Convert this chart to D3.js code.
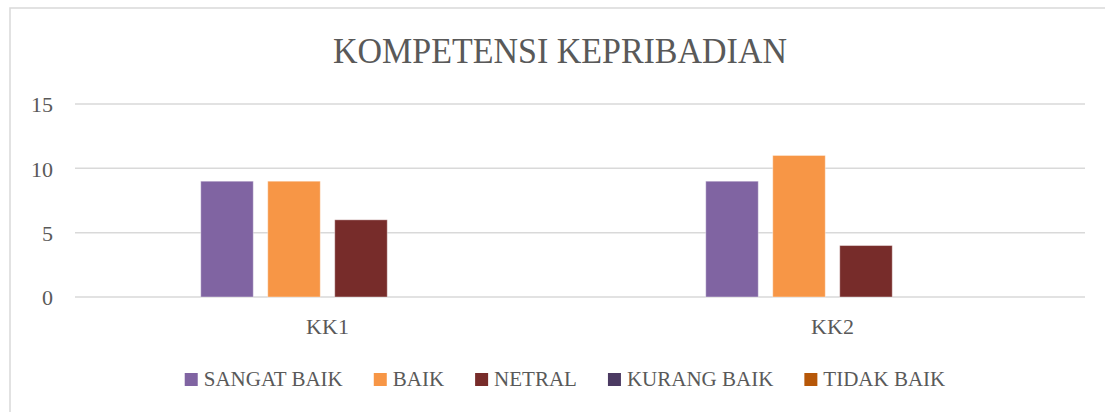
<!DOCTYPE html>
<html>
<head>
<meta charset="utf-8">
<script src="https://cdn.jsdelivr.net/npm/d3@7"></script>
<style>
  body { margin: 0; background: #fff; }
  svg text { font-family: "Liberation Serif", "DejaVu Serif", serif; fill: #595959; }
</style>
</head>
<body>
<div id="chart"></div>
<script>
const categories = ['KK1', 'KK2']
const seriesNames = ['SANGAT BAIK', 'BAIK', 'NETRAL', 'KURANG BAIK', 'TIDAK BAIK']
const seriesColors = ['#8064A2', '#F79646', '#772C2A', '#4B3A62', '#B65708']
// values per series, in order of categories
const sangatBaik = [9, 9]
const baik = [9, 11]
const netral = [6, 4]
const kurangBaik = [0, 0]
const tidakBaik = [0, 0]
const yTicks = [0, 5, 10, 15]

const values = [sangatBaik, baik, netral, kurangBaik, tidakBaik]

const width = 1105
const height = 412
const plot = { left: 75, right: 1085, top: 104, bottom: 297 }

const svg = d3.select('#chart').append('svg')
    .attr('width', width).attr('height', height)

// chart border (runs off the right and bottom edge)
svg.append('rect')
    .attr('x', 10).attr('y', 8)
    .attr('width', width + 20).attr('height', height + 20)
    .attr('fill', 'none').attr('stroke', '#d9d9d9').attr('stroke-width', 1.5)

svg.append('text')
    .attr('x', 560).attr('y', 63)
    .attr('text-anchor', 'middle')
    .attr('font-size', 35)
    .attr('textLength', 454).attr('lengthAdjust', 'spacingAndGlyphs')
    .text('KOMPETENSI KEPRIBADIAN')

const y = d3.scaleLinear().domain([0, 15]).range([plot.bottom, plot.top])

const x0 = d3.scaleBand().domain(categories).range([plot.left, plot.right]).padding(0)

// Excel reserves cluster slots for the first four series
const clusterWidth = 253.5
const x1 = d3.scaleBand().domain(seriesNames.slice(0, 4))
    .range([0, clusterWidth]).paddingInner(0.216).paddingOuter(0)

// gridlines
svg.append('g').selectAll('line').data(yTicks).enter().append('line')
    .attr('x1', plot.left).attr('x2', plot.right)
    .attr('y1', d => y(d)).attr('y2', d => y(d))
    .attr('stroke', '#d9d9d9').attr('stroke-width', 1.5)

const yAxis = svg.append('g')
    .attr('transform', `translate(${plot.left - 22},0)`)
    .call(d3.axisLeft(y).tickValues(yTicks).tickSize(0).tickPadding(0))
yAxis.select('.domain').remove()
yAxis.selectAll('text').attr('font-size', 22).attr('dy', '0.35em')
    .style('font-family', '"Liberation Serif", serif').style('fill', '#595959')

const xAxis = svg.append('g')
    .attr('transform', `translate(0,${plot.bottom})`)
    .call(d3.axisBottom(x0).tickSize(0).tickPadding(0))
xAxis.select('.domain').remove()
xAxis.selectAll('text').attr('font-size', 22).attr('dy', '1.7em')
    .style('font-family', '"Liberation Serif", serif').style('fill', '#595959')

// bars
const rows = []
categories.forEach((c, ci) => {
    seriesNames.forEach((s, si) => {
        if (x1.domain().includes(s)) rows.push({ cat: c, name: s, value: values[si][ci], color: seriesColors[si] })
    })
})

svg.append('g').selectAll('rect').data(rows).enter().append('rect')
    .attr('x', d => x0(d.cat) + (x0.bandwidth() - clusterWidth) / 2 + x1(d.name))
    .attr('y', d => y(d.value))
    .attr('width', x1.bandwidth())
    .attr('height', d => y(0) - y(d.value))
    .attr('fill', d => d.color)
    .attr('stroke', '#fff').attr('stroke-opacity', 0.4).attr('stroke-width', 1)

// legend
const legend = svg.append('g')
const sq = 13, txtGap = 6, itemGap = 31
let lx = 0
const items = []
seriesNames.forEach((s, i) => {
    const g = legend.append('g')
    g.append('rect').attr('x', 0).attr('y', -13).attr('width', sq).attr('height', sq).attr('fill', seriesColors[i])
    const t = g.append('text').attr('x', sq + txtGap).attr('y', 0).attr('font-size', 21).text(s)
    const w = sq + txtGap + t.node().getComputedTextLength()
    g.attr('transform', `translate(${lx},0)`)
    lx += w + itemGap
})
const total = lx - itemGap
legend.attr('transform', `translate(${565 - total / 2},386)`)
</script>
</body>
</html>
